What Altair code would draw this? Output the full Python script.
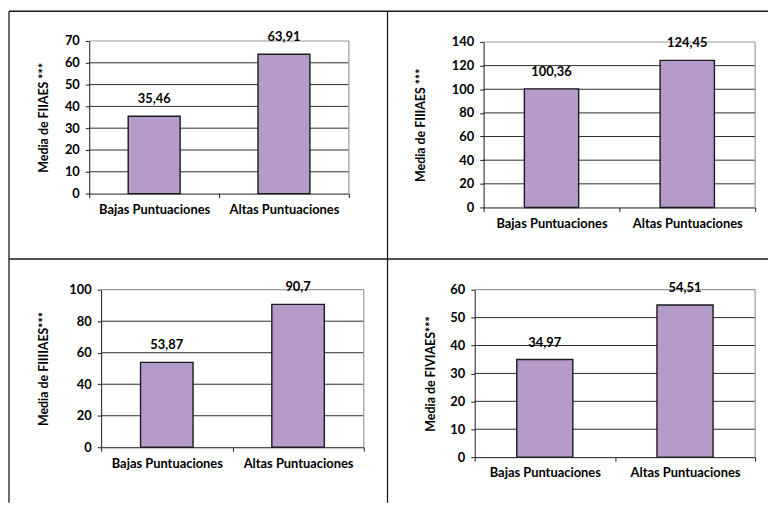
import altair as alt
import pandas as pd

categories = ["Bajas Puntuaciones", "Altas Puntuaciones"]
fiiaes = [35.46, 63.91]
fiiiaes = [100.36, 124.45]
fiiiiaes = [53.87, 90.7]
fiviaes = [34.97, 54.51]
titles = ["Media de FIIAES ***", "Media de FIIIAES ***", "Media de FIIIIAES***", "Media de FIVIAES***"]
y_max = [70, 140, 100, 60]
y_step = [10, 20, 20, 10]

FONT = "Lato"
BAR = "#b49bc9"
INK = "#1a1a1a"
GRID = "#2a2a2a"
BORDER = "#9a9a9a"


def panel(values, title, ymax, ystep, cell, plot, title_pad):
    # cell = (cell width, cell height); plot = (left, top, right, bottom) inside the cell
    CW, CH = cell
    pl, pt, pr, pb = plot
    df = pd.DataFrame({"cat": categories, "value": values})
    ticks = list(range(0, ymax + 1, ystep))
    grid_df = pd.DataFrame({"value": ticks[1:-1]})
    x = alt.X("cat:N", sort=categories, title=None,
              scale=alt.Scale(range=[pl, pr], paddingInner=0, paddingOuter=0),
              axis=alt.Axis(labelAngle=0, labelFont=FONT, labelFontWeight="bold",
                            labelFontSize=13, labelColor="black", tickBand="extent",
                            tickColor=INK, tickSize=4, domainColor=INK, labelPadding=6,
                            grid=False, offset=-(CH - pb)))
    yax = alt.Axis(values=ticks, labelFont=FONT, labelFontWeight="bold",
                   labelFontSize=13, labelColor="black", tickColor=INK,
                   tickSize=4, domainColor=INK, labelPadding=6,
                   titleFont=FONT, titleFontWeight="bold", titleFontSize=12.5,
                   titleColor="black", titlePadding=title_pad, grid=False, offset=-pl)
    y = alt.Y("value:Q", title=title, scale=alt.Scale(domain=[0, ymax], nice=False, range=[pb, pt]),
              axis=yax)
    gridlines = alt.Chart(grid_df).mark_rule(color=GRID, strokeWidth=1).encode(
        y=y, x=alt.value(pl), x2=alt.value(pr))
    one = alt.Chart(alt.Data(values=[{}]))
    border_top = one.mark_rule(color=BORDER, strokeWidth=1.2).encode(
        x=alt.value(pl), x2=alt.value(pr), y=alt.value(pt))
    border_right = one.mark_rule(color=BORDER, strokeWidth=1.2).encode(
        x=alt.value(pr), y=alt.value(pt), y2=alt.value(pb))
    base = alt.Chart(df).encode(x=x, y=y)
    bars = base.mark_bar(width=alt.RelativeBandSize(0.4), color=BAR, stroke=INK, strokeWidth=1.4)
    labels = base.transform_calculate(
        lab="replace(toString(datum.value), '.', ',')"
    ).mark_text(dy=-17, font=FONT, fontWeight="bold", fontSize=13, color="black").encode(text="lab:N")
    frame_top = one.mark_rule(color=INK, strokeWidth=1.3).encode(
        x=alt.value(0), x2=alt.value(CW), y=alt.value(0))
    frame_left = one.mark_rule(color=INK, strokeWidth=1.3).encode(
        x=alt.value(0), y=alt.value(0), y2=alt.value(CH))
    return alt.layer(gridlines, border_top, border_right, bars, labels, frame_top, frame_left).properties(
        width=CW, height=CH)


p1 = panel(fiiaes, titles[0], y_max[0], y_step[0], (382, 250), (81, 30, 343, 184), 14)
p2 = panel(fiiiaes, titles[1], y_max[1], y_step[1], (384, 250), (97, 31, 371, 198), 24)
p3 = panel(fiiiiaes, titles[2], y_max[2], y_step[2], (382, 246), (93, 31, 358, 190), 19)
p4 = panel(fiviaes, titles[3], y_max[3], y_step[3], (384, 246), (88, 31, 371, 200), 12)

chart = alt.concat(
    p1, p2, p3, p4, columns=2, spacing=0, align="none", bounds="flush"
).properties(padding=0, background="white").configure_view(stroke="transparent", strokeWidth=0)

chart.save("out.html", embed_options={"renderer": "svg", "actions": False})
